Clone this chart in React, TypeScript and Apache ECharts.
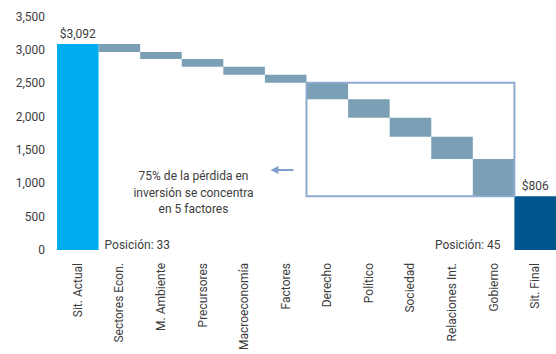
import React, { useEffect, useRef } from "react";
import * as echarts from "echarts";

const categories = [
  "Sit. Actual",
  "Sectores Econ.",
  "M. Ambiente",
  "Precursores",
  "Macroeconomía",
  "Factores",
  "Derecho",
  "Político",
  "Sociedad",
  "Relaciones Int.",
  "Gobierno",
  "Sit. Final",
];
const startValue = 3092;
const finalValue = 806;
const decrements = [122, 105, 115, 120, 120, 250, 275, 285, 335, 559];
const yTicks = [0, 500, 1000, 1500, 2000, 2500, 3000, 3500];
const positionStart = "Posición: 33";
const positionEnd = "Posición: 45";
const noteLines = ["75% de la pérdida en", "inversión se concentra", "en 5 factores"];

const FONT = "Roboto, 'Noto Sans', sans-serif";
const C_START = "#00AEEF";
const C_STEP = "#7BA0B5";
const C_END = "#00558E";
const C_BOX = "#8EAACD";
const C_TEXT = "#3d3d3d";

export default function App() {
  const ref = useRef<HTMLDivElement>(null);
  useEffect(() => {
    if (!ref.current) return;
    const chart = echarts.init(ref.current, null, { renderer: "svg" });

    const base: number[] = [0];
    const vals: number[] = [startValue];
    let level = startValue;
    decrements.forEach((d) => {
      level -= d;
      base.push(level);
      vals.push(d);
    });
    base.push(0);
    vals.push(finalValue);
    const n = categories.length;

    const valData = vals.map((v, i) => ({
      value: v,
      itemStyle: { color: i === 0 ? C_START : i === n - 1 ? C_END : C_STEP },
      label:
        i === 0 || i === n - 1
          ? {
              show: true,
              position: "top",
              distance: 4,
              formatter: "$" + v.toLocaleString("en-US"),
              color: C_TEXT,
              fontFamily: FONT,
              fontSize: 12,
            }
          : { show: false },
    }));

    chart.setOption({
      animation: false,
      grid: { left: 57, width: 504, top: 16.7, height: 233.3, containLabel: false },
      xAxis: {
        type: "category",
        data: categories,
        axisLine: { show: false },
        axisTick: { show: false },
        axisLabel: {
          rotate: 90,
          interval: 0,
          margin: 13,
          color: C_TEXT,
          fontFamily: FONT,
          fontSize: 12,
        },
      },
      yAxis: {
        type: "value",
        min: yTicks[0],
        max: yTicks[yTicks.length - 1],
        interval: 500,
        splitLine: { show: false },
        axisLine: { show: false },
        axisTick: { show: false },
        axisLabel: {
          margin: 12,
          color: C_TEXT,
          fontFamily: FONT,
          fontSize: 12,
          formatter: (v: number) => v.toLocaleString("en-US"),
        },
      },
      series: [
        {
          type: "bar",
          stack: "w",
          data: base,
          itemStyle: { color: "transparent" },
          barCategoryGap: 0,
          barWidth: "100%",
          silent: true,
        },
        {
          type: "bar",
          stack: "w",
          data: valData,
          barCategoryGap: 0,
          barWidth: "100%",
        },
      ],
    });

    const px = (cat: string, v: number) =>
      chart.convertToPixel({ gridIndex: 0 }, [cat, v]) as number[];
    const c5 = px(categories[5], 0);
    const c6 = px(categories[6], 0);
    const band = c6[0] - c5[0];
    const topLeft = px(categories[6], base[5]);
    const botRight = px(categories[10], finalValue);
    const x0 = topLeft[0] - band / 2;
    const x1 = botRight[0] + band / 2;
    const y0 = topLeft[1];
    const y1 = botRight[1];
    const zero = px(categories[0], 0);
    const first = px(categories[0], 0);
    const last = px(categories[n - 1], 0);

    const arrowY = px(categories[5], 1200)[1];
    const arrowRight = x0 - 13;
    const arrowLeft = arrowRight - 23;
    const noteX = arrowLeft - 77;

    chart.setOption({
      graphic: [
        {
          type: "rect",
          shape: { x: x0, y: y0, width: x1 - x0, height: y1 - y0 },
          style: { fill: "none", stroke: C_BOX, lineWidth: 2 },
          z: 10,
        },
        {
          type: "line",
          shape: { x1: arrowLeft + 6, y1: arrowY, x2: arrowRight, y2: arrowY },
          style: { stroke: "#7E9FC9", lineWidth: 2 },
        },
        {
          type: "polygon",
          shape: {
            points: [
              [arrowLeft, arrowY],
              [arrowLeft + 8, arrowY - 4],
              [arrowLeft + 8, arrowY + 4],
            ],
          },
          style: { fill: "#7E9FC9" },
        },
        {
          type: "text",
          x: noteX,
          y: arrowY - 2,
          style: {
            text: noteLines.join("\n"),
            align: "center",
            verticalAlign: "top",
            lineHeight: 16.5,
            fontSize: 12,
            fontFamily: FONT,
            fill: C_TEXT,
          },
        },
        {
          type: "text",
          x: first[0] + band / 2 + 6,
          y: zero[1] - 5,
          style: {
            text: positionStart,
            align: "left",
            verticalAlign: "middle",
            fontSize: 12,
            fontFamily: FONT,
            fill: C_TEXT,
          },
        },
        {
          type: "text",
          x: last[0] - band / 2 - 14,
          y: zero[1] - 5,
          style: {
            text: positionEnd,
            align: "right",
            verticalAlign: "middle",
            fontSize: 12,
            fontFamily: FONT,
            fill: C_TEXT,
          },
        },
      ],
    });

    return () => chart.dispose();
  }, []);
  return <div ref={ref} style={{ width: 556, height: 354, position: "absolute", left: 0, top: 0 }} />;
}
